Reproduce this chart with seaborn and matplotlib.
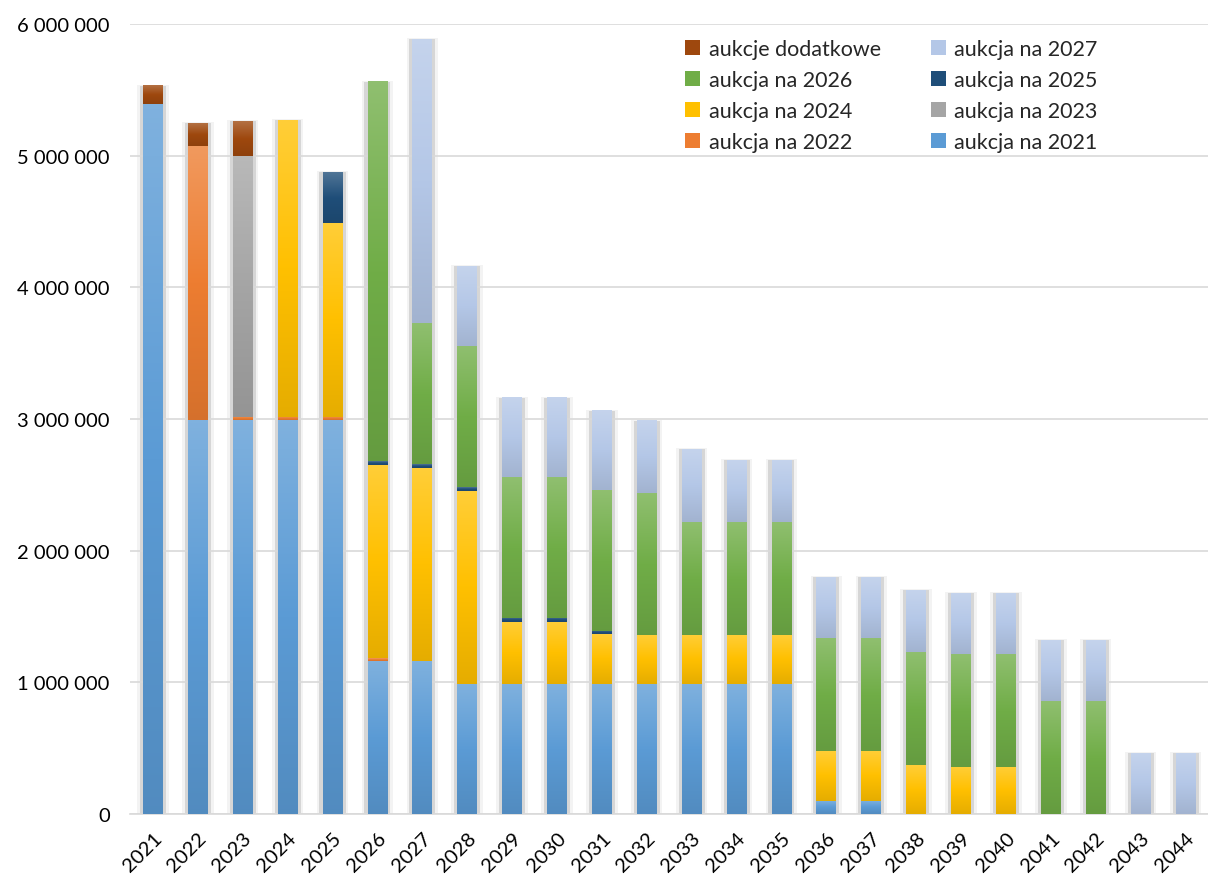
import numpy as np
import pandas as pd
import matplotlib
matplotlib.use("Agg")
import matplotlib.pyplot as plt
import matplotlib.colors as mcolors
from matplotlib.patches import Patch
from matplotlib.ticker import FuncFormatter, MultipleLocator
import seaborn as sns

years = [str(y) for y in range(2021, 2045)]

aukcja_2021 = [5390000, 2990000, 2990000, 2990000, 2990000, 1163000, 1163000,
               987000, 987000, 987000, 987000, 987000, 987000, 987000, 987000,
               100000, 100000, 0, 0, 0, 0, 0, 0, 0]
aukcja_2022 = [0, 2085000, 25000, 25000, 25000, 20000, 0,
               0, 0, 0, 0, 0, 0, 0, 0, 0, 0, 0, 0, 0, 0, 0, 0, 0]
aukcja_2023 = [0, 0, 1985000, 0, 0, 0, 0,
               0, 0, 0, 0, 0, 0, 0, 0, 0, 0, 0, 0, 0, 0, 0, 0, 0]
aukcja_2024 = [0, 0, 0, 2255000, 1475000, 1467000, 1465000,
               1466000, 471000, 471000, 380000, 373000, 373000, 373000, 373000,
               380000, 380000, 372000, 357000, 357000, 0, 0, 0, 0]
aukcja_2025 = [0, 0, 0, 0, 385000, 30000, 30000,
               30000, 31000, 31000, 23000, 0, 0, 0, 0,
               0, 0, 0, 0, 0, 0, 0, 0, 0]
aukcja_2026 = [0, 0, 0, 0, 0, 2879000, 1070000,
               1074000, 1070000, 1070000, 1070000, 1078000, 858000, 858000, 858000,
               857000, 857000, 858000, 858000, 858000, 858000, 858000, 0, 0]
aukcja_2027 = [0, 0, 0, 0, 0, 0, 2156000,
               600000, 600000, 600000, 600000, 547000, 549000, 465000, 465000,
               463000, 463000, 466000, 463000, 463000, 463000, 463000, 463000, 463000]
aukcje_dodatkowe = [140000, 170000, 260000, 0, 0, 0, 0,
                    0, 0, 0, 0, 0, 0, 0, 0, 0, 0, 0, 0, 0, 0, 0, 0, 0]

# stacking order, bottom to top
series = [
    ("aukcja na 2021", aukcja_2021, "#5B9BD5"),
    ("aukcja na 2022", aukcja_2022, "#ED7D31"),
    ("aukcja na 2023", aukcja_2023, "#A5A5A5"),
    ("aukcja na 2024", aukcja_2024, "#FFC000"),
    ("aukcja na 2025", aukcja_2025, "#1F4E79"),
    ("aukcja na 2026", aukcja_2026, "#70AD47"),
    ("aukcja na 2027", aukcja_2027, "#B4C7E7"),
    ("aukcje dodatkowe", aukcje_dodatkowe, "#9E480E"),
]

sns.set_theme(style="white")
plt.rcParams["font.family"] = ["Lato", "DejaVu Sans"]

fig = plt.figure(figsize=(12.08, 8.79), dpi=100)
ax = fig.add_axes([0.108, 0.0728, 0.892, 0.8988])

df = pd.DataFrame({"rok": years})
for name, vals, _ in series:
    df[name] = vals
totals = df[[s[0] for s in series]].sum(axis=1).to_numpy()

# soft drop shadow behind each stacked column
sns.barplot(data=df.assign(t=totals + 10000), x="rok", y="t", color="#f3f3f3",
            saturation=1, width=0.70, errorbar=None, ax=ax, zorder=0.2, linewidth=0)
sns.barplot(data=df.assign(t=totals + 2000), x="rok", y="t", color="#d6d6d6",
            saturation=1, width=0.58, errorbar=None, ax=ax, zorder=0.3, linewidth=0)


def mix(c, other, t):
    a = np.array(mcolors.to_rgb(c))
    b = np.array(mcolors.to_rgb(other))
    return tuple(a + (b - a) * t)


grad = np.linspace(0, 1, 128).reshape(-1, 1)
bottom = np.zeros(len(years))
for name, vals, color in series:
    vals = np.array(vals, dtype=float)
    sns.barplot(data=df, x="rok", y=name, bottom=bottom, color=color, saturation=1,
                width=0.44, errorbar=None, ax=ax, zorder=2, linewidth=0)
    bars = ax.containers[-1]
    cmap = mcolors.LinearSegmentedColormap.from_list(
        name, [mix(color, "white", 0.22), color, mix(color, "black", 0.10)])
    for bar in bars:
        h = bar.get_height()
        if h <= 0:
            continue
        x0, y0, w = bar.get_x(), bar.get_y(), bar.get_width()
        ax.imshow(grad, cmap=cmap, extent=(x0, x0 + w, y0, y0 + h), origin="upper",
                  aspect="auto", interpolation="bilinear", zorder=2.1)
    bottom = bottom + vals

ax.set_xlim(-0.5, len(years) - 0.5)
ax.set_ylim(0, 6000000)
ax.yaxis.set_major_locator(MultipleLocator(1000000))
ax.yaxis.set_major_formatter(FuncFormatter(lambda v, p: f"{int(round(v)):,}".replace(",", " ")))
ax.set_axisbelow(True)
ax.grid(axis="y", color="#d9d9d9", linewidth=1.2, zorder=0.5)
ax.grid(axis="x", visible=False)
for side in ["left", "right", "top"]:
    ax.spines[side].set_visible(False)
ax.spines["bottom"].set_color("#d9d9d9")
ax.spines["bottom"].set_linewidth(1.2)
ax.spines["bottom"].set_zorder(0.4)
ax.set_xlabel("")
ax.set_ylabel("")
ax.tick_params(axis="both", length=0, labelsize=14.5, labelcolor="#000000")
ax.tick_params(axis="y", pad=15)
ax.tick_params(axis="x", pad=11)
for lab in ax.get_xticklabels():
    lab.set_rotation(45)
    lab.set_ha("right")
    lab.set_va("top")
    lab.set_rotation_mode("anchor")

handles = {name: Patch(facecolor=color, edgecolor="none") for name, _, color in series}
order = ["aukcje dodatkowe", "aukcja na 2026", "aukcja na 2024", "aukcja na 2022",
         "aukcja na 2027", "aukcja na 2025", "aukcja na 2023", "aukcja na 2021"]
ax.legend([handles[n] for n in order], order, ncol=2, frameon=False,
          loc="upper left", bbox_to_anchor=(0.497, 1.005), fontsize=15.5,
          handlelength=0.7, handleheight=0.7, handletextpad=0.4,
          columnspacing=2.3, labelspacing=0.5)

fig.savefig("out.png", dpi=100)
